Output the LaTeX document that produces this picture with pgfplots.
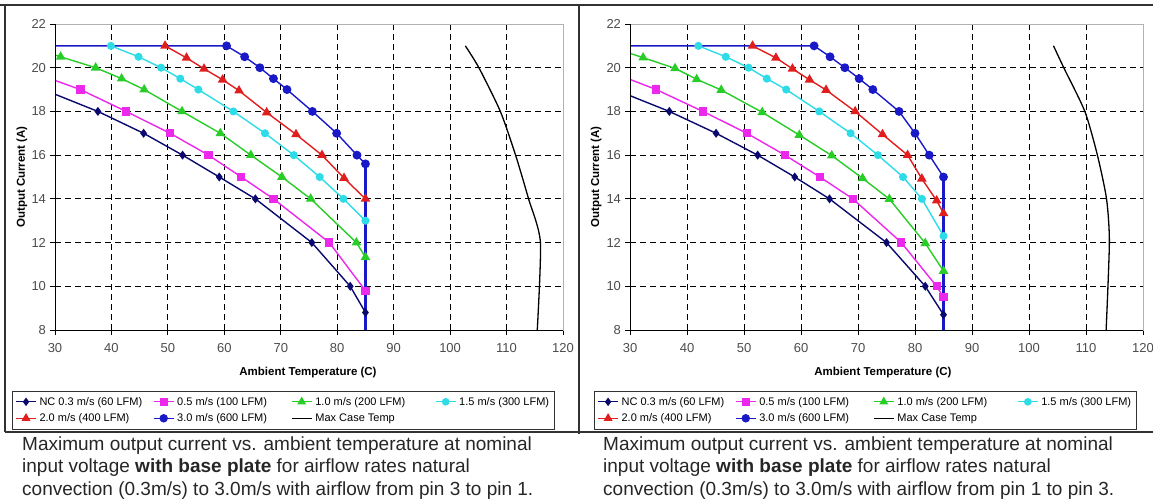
\documentclass[border=0pt]{standalone}
\usepackage{fontspec}
\setmainfont{Liberation Sans}
\usepackage{pgfplots}
\pgfplotsset{compat=1.18}

\definecolor{ncnavy}{RGB}{10,10,110}
\definecolor{pinkm}{RGB}{235,40,235}
\definecolor{greenl}{RGB}{40,205,40}
\definecolor{cyanl}{RGB}{45,220,230}
\definecolor{redl}{RGB}{225,30,30}
\definecolor{bluel}{RGB}{25,25,200}
\definecolor{framec}{RGB}{50,50,50}

\pgfplotsset{
  derate/.style={
    scale only axis, height=306pt,
    xmin=30, xmax=120, ymin=8, ymax=22,
    xtick={30,40,...,120}, ytick={8,10,...,22},
    minor xtick={40,50,...,110}, minor ytick={10,12,...,20},
    xminorgrids=true, yminorgrids=true,
    minor grid style={black, line width=0.9pt, dash pattern=on 6pt off 4pt},
    minor tick length=0pt,
    axis line style={gray!60, line width=0.8pt},
    xtick pos=bottom, ytick pos=left,
    tick align=outside, major tick length=5pt,
    tick style={black, line width=0.8pt},
    /pgf/number format/assume math mode=true,
    every tick label/.append style={font=\fontsize{13}{15}\selectfont, text=black!70},
    xticklabel style={yshift=-4pt},
    line width=1.4pt,
    legend columns=4,
    legend cell align=left,
    legend image code/.code={\draw[mark repeat=2, mark phase=2] plot coordinates {(0pt,0pt) (10pt,0pt) (20pt,0pt)};},
    legend style={draw=framec, line width=1pt, font=\fontsize{11}{13}\selectfont,
      inner xsep=3pt, inner ysep=4pt, row sep=3pt,
      /tikz/column 2/.style={column sep=9pt},
      /tikz/column 4/.style={column sep=22pt},
      /tikz/column 6/.style={column sep=28pt},
      /tikz/every odd column/.append style={column sep=1pt}},
  },
  nc/.style={ncnavy, mark=diamond*, mark size=3.4pt},
  pk/.style={pinkm, mark=square*, mark size=3.4pt},
  gr/.style={greenl, mark=triangle*, mark size=4.2pt},
  cy/.style={cyanl, mark=*, mark size=3.3pt},
  rd/.style={redl, mark=triangle*, mark size=4.2pt},
  bl/.style={bluel, mark=*, mark size=3.7pt},
  mx/.style={black, no marks, line width=1.3pt, smooth, tension=0.4},
}

\begin{document}
\begin{tikzpicture}[x=1pt, y=1pt]
\useasboundingbox (0,0) rectangle (1153,-502);

% panel frames
\draw[framec, line width=1.4pt] (0,-5) -- (1153,-5);
\draw[framec, line width=1.4pt] (5,-5) -- (5,-432);
\draw[framec, line width=1.4pt] (579,-5) -- (579,-434);
\draw[framec, line width=1.4pt] (5,-432) -- (1153,-432);

% left chart: airflow from pin 3 to pin 1
\begin{axis}[derate, width=508pt, at={(55pt,-330pt)}, anchor=south west,
  xlabel={Ambient Temperature (C)}, ylabel={Output Current (A)},
  every axis x label/.style={at={(axis description cs:0.498,-0.140)}, anchor=center, font=\fontsize{11.5}{13}\selectfont\bfseries},
  every axis y label/.style={at={(axis description cs:-0.065,0.5)}, rotate=90, anchor=center, font=\fontsize{11.5}{13}\selectfont\bfseries},
  legend style={at={(axis description cs:-0.0846,-0.198)}, anchor=north west},
]
\addplot[nc] coordinates {(26,19.2) (37.6,18) (45.7,17) (52.6,16) (59.1,15) (65.5,14) (75.5,12) (82.3,10) (85,8.8)};
\addplot[pk] coordinates {(26,19.79) (34.5,19) (42.6,18) (50.4,17) (57.2,16) (63,15) (68.7,14) (78.6,12) (85,9.8)};
\addplot[gr] coordinates {(26,20.9) (31,20.5) (37.2,20) (41.8,19.5) (45.8,19) (52.5,18) (59.3,17) (64.7,16) (70.2,15) (75.3,14) (83.4,12) (85,11.33)};
\addplot[cy] coordinates {(39.9,21) (44.8,20.5) (48.8,20) (52.2,19.5) (55.4,19) (61.6,18) (67.2,17) (72.3,16) (76.9,15) (81.1,14) (85,13)};
\addplot[rd] coordinates {(49.5,21) (53.3,20.45) (56.4,19.95) (59.7,19.45) (62.6,18.95) (67.5,17.95) (72.7,16.95) (77.3,16) (81.2,14.95) (85,14)};
\addplot[bl] coordinates {(26,21) (60.4,21) (63.6,20.5) (66.3,20) (68.7,19.5) (71.1,19) (75.6,18) (79.9,17) (83.5,16) (85,15.6)};
\addplot[mx] coordinates {(102.7,21) (105.1,20) (108.9,18) (111.6,16) (113.9,14) (116.0,12) (115.4,7.8)};
\addplot[bluel, no marks, line width=2.8pt, forget plot] coordinates {(85,15.6) (85,7.8)};
\legend{NC 0.3 m/s (60 LFM), 0.5 m/s (100 LFM), 1.0 m/s (200 LFM), 1.5 m/s (300 LFM), 2.0 m/s (400 LFM), 3.0 m/s (600 LFM), Max Case Temp}
\draw[black, line width=1pt] (rel axis cs:0,1) -- (rel axis cs:0,0) -- (rel axis cs:1,0);
\end{axis}

% right chart: airflow from pin 1 to pin 3
\begin{axis}[derate, width=513pt, at={(630pt,-330pt)}, anchor=south west,
  xlabel={Ambient Temperature (C)}, ylabel={Output Current (A)},
  every axis x label/.style={at={(axis description cs:0.493,-0.140)}, anchor=center, font=\fontsize{11.5}{13}\selectfont\bfseries},
  every axis y label/.style={at={(axis description cs:-0.066,0.5)}, rotate=90, anchor=center, font=\fontsize{11.5}{13}\selectfont\bfseries},
  legend style={at={(axis description cs:-0.070,-0.198)}, anchor=north west},
]
\addplot[nc] coordinates {(26,19.14) (36.9,18) (45.1,17) (52.4,16) (58.9,15) (65,14) (75,12) (81.8,10) (85,8.7)};
\addplot[pk] coordinates {(26,19.87) (34.6,19) (42.8,18) (50.5,17) (57.2,16) (63.3,15) (69.1,14) (77.6,12) (83.8,10) (85,9.5)};
\addplot[gr] coordinates {(26,21.0) (32.3,20.46) (37.9,19.97) (41.7,19.47) (46,18.98) (53.2,17.96) (59.7,16.92) (65.4,15.98) (70.8,14.94) (75.5,13.99) (81.8,11.97) (85,10.7)};
\addplot[cy] coordinates {(42,21) (46.8,20.5) (50.8,20) (54,19.5) (57.4,19) (63.2,18) (68.7,17) (73.5,16) (77.9,15) (81.2,14) (85,12.3)};
\addplot[rd] coordinates {(51.5,21) (55.6,20.45) (58.5,19.95) (61.5,19.45) (64.4,18.98) (69.5,18) (74.3,16.95) (78.7,16) (81.2,14.92) (83.8,13.92) (85,13.34)};
\addplot[bl] coordinates {(26,21) (62.3,21) (65.1,20.5) (67.7,20) (70.2,19.5) (72.6,19) (77.2,18) (80,17) (82.5,16) (85,15)};
\addplot[mx] coordinates {(104.3,21) (106.1,20) (109.8,18) (112,16) (113.6,14) (114.1,12) (113.5,7.8)};
\addplot[bluel, no marks, line width=2.8pt, forget plot] coordinates {(85,15) (85,7.8)};
\legend{NC 0.3 m/s (60 LFM), 0.5 m/s (100 LFM), 1.0 m/s (200 LFM), 1.5 m/s (300 LFM), 2.0 m/s (400 LFM), 3.0 m/s (600 LFM), Max Case Temp}
\draw[black, line width=1pt] (rel axis cs:0,1) -- (rel axis cs:0,0) -- (rel axis cs:1,0);
\end{axis}

% captions
\begin{scope}[every node/.style={anchor=base west, inner sep=0pt, font=\fontsize{19}{22}\selectfont, text=black!85}]
\node at (22,-450) {Maximum output current vs. ambient temperature at nominal};
\node at (22,-472.5) {input voltage \textbf{with base plate} for airflow rates natural};
\node at (22,-495) {convection (0.3m/s) to 3.0m/s with airflow from pin 3 to pin 1.};
\node at (603,-450) {Maximum output current vs. ambient temperature at nominal};
\node at (603,-472.5) {input voltage \textbf{with base plate} for airflow rates natural};
\node at (603,-495) {convection (0.3m/s) to 3.0m/s with airflow from pin 1 to pin 3.};
\end{scope}
\end{tikzpicture}
\end{document}
